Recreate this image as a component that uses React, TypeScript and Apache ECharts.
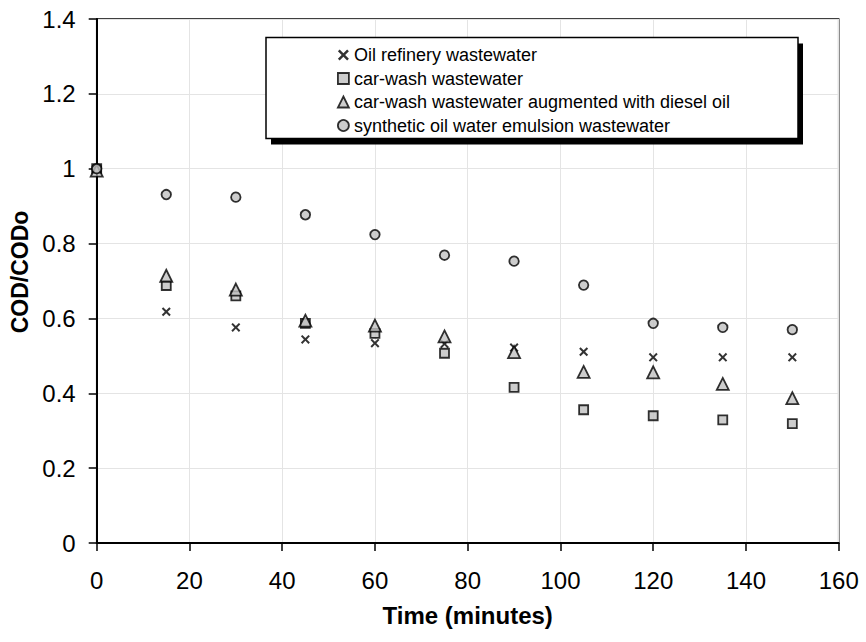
import React, { useEffect, useRef } from "react";
import * as echarts from "echarts";

const times = [0, 15, 30, 45, 60, 75, 90, 105, 120, 135, 150];
const oilRefinery = [1.0, 0.618, 0.576, 0.544, 0.534, 0.532, 0.522, 0.511, 0.496, 0.496, 0.496];
const carWash = [1.0, 0.688, 0.66, 0.587, 0.56, 0.507, 0.416, 0.356, 0.34, 0.329, 0.319];
const carWashDiesel = [0.995, 0.714, 0.677, 0.594, 0.581, 0.552, 0.51, 0.457, 0.456, 0.425, 0.387];
const synthetic = [1.0, 0.931, 0.924, 0.877, 0.824, 0.769, 0.753, 0.689, 0.587, 0.576, 0.57];
const seriesNames = [
  "Oil refinery wastewater",
  "car-wash wastewater",
  "car-wash wastewater augmented with diesel oil",
  "synthetic oil water emulsion wastewater",
];

const FONT = "'Liberation Sans', Arial, Helvetica, sans-serif";
const CROSS =
  "path://M0,1.6 L1.6,0 L5,3.4 L8.4,0 L10,1.6 L6.6,5 L10,8.4 L8.4,10 L5,6.6 L1.6,10 L0,8.4 L3.4,5 Z";

function pts(vals: number[]) {
  return times.map((t, i) => [t, vals[i]]);
}

export default function App() {
  const ref = useRef<HTMLDivElement>(null);
  useEffect(() => {
    if (!ref.current) return;
    const chart = echarts.init(ref.current, null, { renderer: "svg" });
    const markerStyle = { color: "#c0c0c0", borderColor: "#000", borderWidth: 1.8 };
    chart.setOption({
      animation: false,
      backgroundColor: "#fff",
      grid: {
        left: 96.7,
        right: 27.3,
        top: 19,
        bottom: 99,
        show: true,
        borderColor: "#000",
        borderWidth: 1.5,
        backgroundColor: "transparent",
      },
      graphic: [
        { type: "rect", z: 1, shape: { x: 271, y: 43.5, width: 532, height: 101 }, style: { fill: "#000" } },
        {
          type: "rect",
          z: 1,
          shape: { x: 266, y: 37.5, width: 532, height: 101 },
          style: { fill: "#fff", stroke: "#000", lineWidth: 1.5 },
        },
      ],
      legend: {
        orient: "vertical",
        left: 332,
        top: 41,
        itemWidth: 11,
        itemHeight: 11,
        itemGap: 5.5,
        z: 5,
        textStyle: { fontFamily: FONT, fontSize: 18, color: "#000", lineHeight: 18 },
        data: [
          { name: seriesNames[0], icon: CROSS, itemStyle: { color: "#000", borderWidth: 0 } },
          { name: seriesNames[1], icon: "rect", itemStyle: markerStyle },
          { name: seriesNames[2], icon: "triangle", itemStyle: markerStyle },
          { name: seriesNames[3], icon: "circle", itemStyle: markerStyle },
        ],
      },
      xAxis: {
        type: "value",
        min: 0,
        max: 160,
        interval: 20,
        name: "Time (minutes)",
        nameLocation: "middle",
        nameGap: 60,
        nameTextStyle: { fontFamily: FONT, fontSize: 24, fontWeight: "bold", color: "#000" },
        axisLine: { show: true, lineStyle: { color: "#000", width: 2 } },
        axisTick: { show: true, inside: false, length: 8, lineStyle: { color: "#000", width: 1.5 } },
        axisLabel: { fontFamily: FONT, fontSize: 24, color: "#000", margin: 25 },
        splitLine: { show: true, lineStyle: { color: "#e4e4e4", width: 1 } },
      },
      yAxis: {
        type: "value",
        min: 0,
        max: 1.4,
        interval: 0.2,
        name: "COD/CODo",
        nameLocation: "middle",
        nameGap: 62,
        nameTextStyle: {
          fontFamily: FONT,
          fontSize: 23,
          fontWeight: "bold",
          color: "#000",
          padding: [0, 0, 0, 18],
        },
        axisLine: { show: true, lineStyle: { color: "#000", width: 2 } },
        axisTick: { show: true, inside: false, length: 8, lineStyle: { color: "#000", width: 1.5 } },
        axisLabel: { fontFamily: FONT, fontSize: 24, color: "#000", margin: 21 },
        splitLine: { show: true, lineStyle: { color: "#e4e4e4", width: 1 } },
      },
      series: [
        {
          name: seriesNames[0],
          type: "scatter",
          symbol: CROSS,
          symbolSize: 9,
          itemStyle: { color: "#000", borderWidth: 0 },
          data: pts(oilRefinery),
        },
        {
          name: seriesNames[1],
          type: "scatter",
          symbol: "rect",
          symbolSize: 9,
          itemStyle: markerStyle,
          data: pts(carWash),
        },
        {
          name: seriesNames[2],
          type: "scatter",
          symbol: "triangle",
          symbolSize: 12,
          itemStyle: markerStyle,
          data: pts(carWashDiesel),
        },
        {
          name: seriesNames[3],
          type: "scatter",
          symbol: "circle",
          symbolSize: 9.5,
          itemStyle: markerStyle,
          data: pts(synthetic),
        },
      ],
    });
    return () => chart.dispose();
  }, []);
  return (
    <div
      ref={ref}
      style={{ position: "fixed", left: 0, top: 0, width: 866, height: 642, background: "#fff" }}
    />
  );
}
